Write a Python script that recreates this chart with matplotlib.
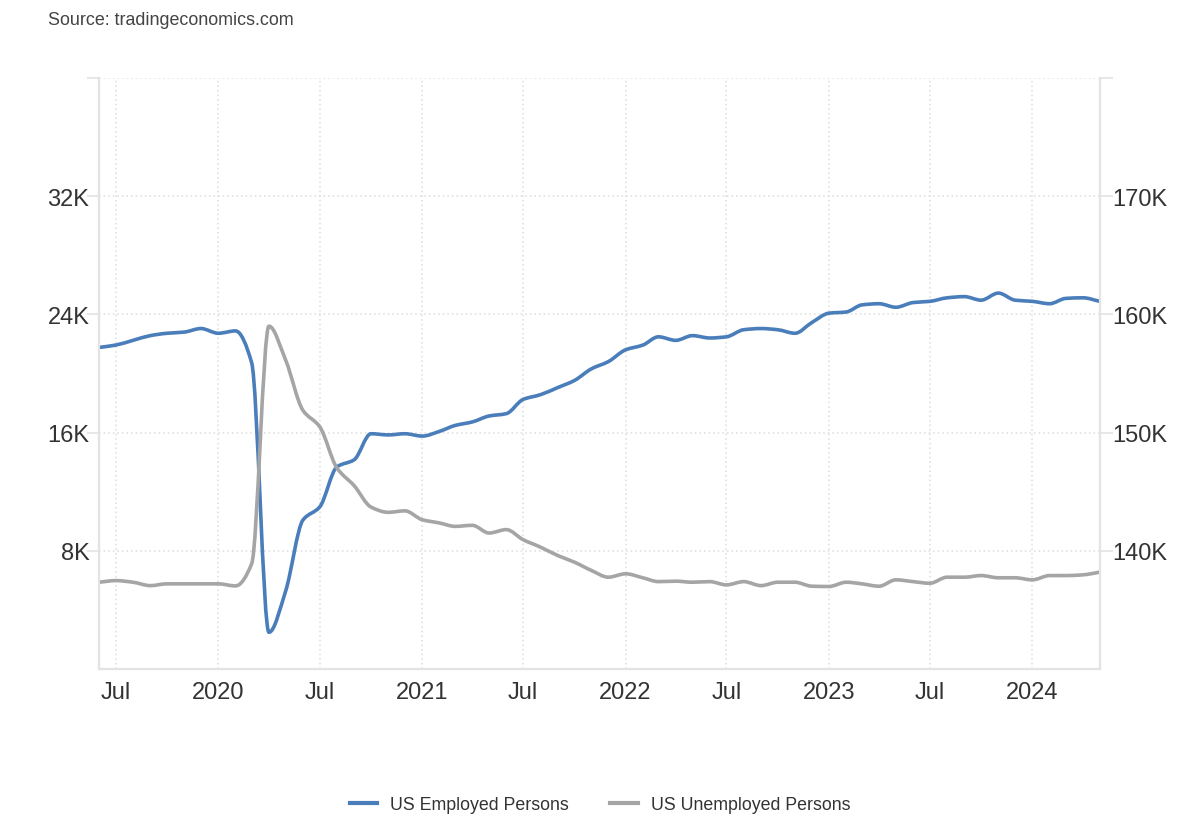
import numpy as np
import pandas as pd
import matplotlib
matplotlib.use("Agg")
import matplotlib.pyplot as plt
import matplotlib.dates as mdates
from matplotlib.path import Path
from matplotlib.patches import PathPatch
from matplotlib.lines import Line2D

plt.rcParams['font.family'] = ['Liberation Sans', 'DejaVu Sans']

# monthly, Jun 2019 .. May 2024
months = pd.date_range("2019-06-01", "2024-05-01", freq="MS")

# US Employed Persons (right scale, K)
employed = [157.2, 157.4, 157.8, 158.2, 158.4, 158.5, 158.8,
            158.4, 158.6, 155.9, 133.1, 136.6, 142.6, 143.7, 147.1, 147.7, 149.9, 149.8, 149.9,
            149.7, 150.1, 150.6, 150.9, 151.4, 151.6, 152.8, 153.2, 153.8, 154.4, 155.4, 156.0,
            157.0, 157.4, 158.1, 157.8, 158.2, 158.0, 158.1, 158.7, 158.8, 158.7, 158.4, 159.3,
            160.1, 160.2, 160.8, 160.9, 160.6, 161.0, 161.1, 161.4, 161.5, 161.2, 161.8, 161.2,
            161.1, 160.9, 161.35, 161.4, 161.1]

# US Unemployed Persons (left scale, K)
unemployed = [5.87, 5.98, 5.87, 5.64, 5.76, 5.76, 5.76,
              5.76, 5.62, 7.12, 23.2, 20.9, 17.5, 16.4, 13.6, 12.4, 10.96, 10.6, 10.7,
              10.1, 9.88, 9.65, 9.72, 9.2, 9.43, 8.75, 8.25, 7.68, 7.23, 6.66, 6.21,
              6.44, 6.17, 5.91, 5.94, 5.87, 5.91, 5.69, 5.91, 5.64, 5.87, 5.87, 5.6,
              5.58, 5.87, 5.76, 5.6, 6.03, 5.91, 5.8, 6.21, 6.21, 6.32, 6.17, 6.17,
              6.03, 6.32, 6.32, 6.37, 6.55]

left_ticks = [8, 16, 24, 32]
left_labels = ["8K", "16K", "24K", "32K"]
right_ticks = [140, 150, 160, 170]
right_labels = ["140K", "150K", "160K", "170K"]
x_ticks = pd.to_datetime(["2019-07-01", "2020-01-01", "2020-07-01", "2021-01-01", "2021-07-01",
                          "2022-01-01", "2022-07-01", "2023-01-01", "2023-07-01", "2024-01-01"])
x_labels = ["Jul", "2020", "Jul", "2021", "Jul", "2022", "Jul", "2023", "Jul", "2024"]

BLUE = "#4a7ebb"
GRAY = "#a5a5a5"
GRID = "#dcdcdc"
SPINE = "#e3e3e3"
TXT = "#333333"


def smooth_path(x, y):
    # monotone cubic (fritsch-carlson) drawn as bezier segments
    x = np.asarray(x, float)
    y = np.asarray(y, float)
    n = len(x)
    h = np.diff(x)
    d = np.diff(y) / h
    m = np.zeros(n)
    m[0], m[-1] = d[0], d[-1]
    for i in range(1, n - 1):
        if d[i - 1] * d[i] <= 0:
            m[i] = 0
        else:
            w1 = 2 * h[i] + h[i - 1]
            w2 = h[i] + 2 * h[i - 1]
            m[i] = (w1 + w2) / (w1 / d[i - 1] + w2 / d[i])
    verts = [(x[0], y[0])]
    codes = [Path.MOVETO]
    for i in range(n - 1):
        verts += [(x[i] + h[i] / 3, y[i] + m[i] * h[i] / 3),
                  (x[i + 1] - h[i] / 3, y[i + 1] - m[i + 1] * h[i] / 3),
                  (x[i + 1], y[i + 1])]
        codes += [Path.CURVE4] * 3
    return Path(verts, codes)


fig = plt.figure(figsize=(12, 8.2), dpi=100)
ax = fig.add_axes([0.0825, 0.183, 0.834, 0.7207])   # employed, right scale
ax2 = ax.twinx()                                    # unemployed, left scale

xs = mdates.date2num(months)
ax.add_patch(PathPatch(smooth_path(xs, employed), fill=False, edgecolor=BLUE,
                       lw=2.6, capstyle="round", joinstyle="round"))
ax2.add_patch(PathPatch(smooth_path(xs, unemployed), fill=False, edgecolor=GRAY,
                        lw=2.6, capstyle="round", joinstyle="round"))

ax.set_xlim(xs[0], xs[-1])
ax.set_ylim(130, 180)
ax2.set_ylim(0, 40)

ax.yaxis.tick_right()
ax2.yaxis.tick_left()

ax.set_yticks(right_ticks + [180])
ax.set_yticklabels(right_labels + [""])
ax2.set_yticks(left_ticks + [40])
ax2.set_yticklabels(left_labels + [""])

ax.set_xticks(mdates.date2num(x_ticks))
ax.set_xticklabels(x_labels)

ax.tick_params(axis="x", length=0, pad=9, labelsize=17, labelcolor=TXT)
ax.tick_params(axis="y", length=9, width=1.2, color=SPINE, pad=0, labelsize=17, labelcolor=TXT)
ax2.tick_params(axis="y", length=9, width=1.2, color=SPINE, pad=-2, labelsize=17, labelcolor=TXT)

ax.grid(True, color=GRID, linestyle=(0, (1, 2)), lw=1.1)
ax.set_axisbelow(True)

for a in (ax, ax2):
    a.spines["top"].set_visible(False)
    for s in ("left", "right", "bottom"):
        a.spines[s].set_color(SPINE)
        a.spines[s].set_linewidth(1.5)

fig.text(0.04, 0.975, "Source: tradingeconomics.com", fontsize=12.9, color="#444444",
         ha="left", va="center")

handles = [Line2D([], [], color=BLUE, lw=3), Line2D([], [], color=GRAY, lw=3)]
fig.legend(handles, ["US Employed Persons", "US Unemployed Persons"], loc="center",
           bbox_to_anchor=(0.5, 0.018), ncol=2, frameon=False, fontsize=12.8,
           handlelength=1.55, columnspacing=2.3, handletextpad=0.75, labelcolor=TXT)

fig.savefig("out.png", dpi=100)
